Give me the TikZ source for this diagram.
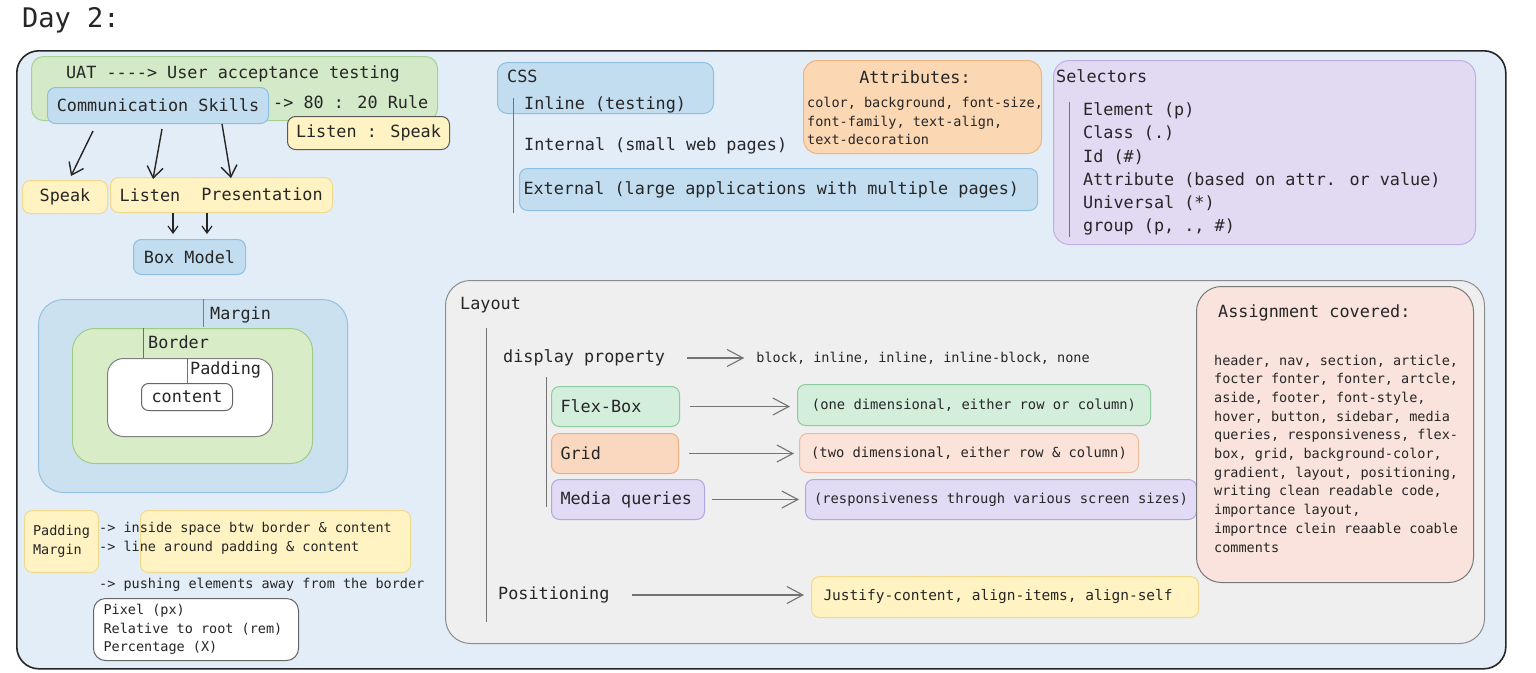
\documentclass[tikz,border=0pt]{standalone}
\usepackage{fontspec}
\setmainfont{DejaVu Sans Mono}[Ligatures=TeXOff]
\usepackage{tikz}
\usetikzlibrary{arrows.meta,positioning}

\definecolor{ink}{HTML}{262626}
\definecolor{bgblue}{HTML}{E3EDF7}
\definecolor{grnF}{HTML}{D3E9C7}  \definecolor{grnL}{HTML}{A6D292}
\definecolor{bluF}{HTML}{C3DDF0}  \definecolor{bluL}{HTML}{8EBEE2}
\definecolor{yelF}{HTML}{FFF3C4}  \definecolor{yelL}{HTML}{F1D98B}
\definecolor{mrgF}{HTML}{CCE1F0}  \definecolor{mrgL}{HTML}{93C0E0}
\definecolor{brdF}{HTML}{D8ECC8}  \definecolor{brdL}{HTML}{9FCB86}
\definecolor{attF}{HTML}{FBD8B3}  \definecolor{attL}{HTML}{F0B57A}
\definecolor{selF}{HTML}{E2D9F3}  \definecolor{selL}{HTML}{BFAEE6}
\definecolor{layF}{HTML}{EFEFEF}  \definecolor{layL}{HTML}{8C8C8C}
\definecolor{flxF}{HTML}{D4EEDC}  \definecolor{flxL}{HTML}{8DCB9E}
\definecolor{grdF}{HTML}{FAD8C0}  \definecolor{grdL}{HTML}{EDAE84}
\definecolor{gdsF}{HTML}{FBE3D9}  \definecolor{gdsL}{HTML}{F0B99E}
\definecolor{mqF}{HTML}{E1DBF5}   \definecolor{mqL}{HTML}{B3A4E2}
\definecolor{asF}{HTML}{F9E3DC}   \definecolor{asL}{HTML}{787878}

\newcommand{\fbig}{\fontsize{16.8}{20}\selectfont}
\newcommand{\fsel}{\fontsize{16.8}{23.2}\selectfont}
\newcommand{\fsmall}{\fontsize{13.5}{18.7}\selectfont}
\newcommand{\fmid}{\fontsize{13.8}{17}\selectfont}

\begin{document}
\begin{tikzpicture}[x=1pt,y=-1pt,
  every node/.style={inner sep=0pt, text=ink,
                     execute at begin node={\spaceskip=\fontdimen2\font\relax}},
  txt/.style={font=\fbig},
  stxt/.style={font=\fsmall},
  box/.style={draw, line width=1pt, rounded corners=8pt, anchor=north west, font=\fbig},
  greenbox/.style={box, fill=grnF, draw=grnL},
  bluebox/.style={box, fill=bluF, draw=bluL},
  yelbox/.style={box, fill=yelF, draw=yelL},
  whitebox/.style={box, fill=white, draw=black!60},
  tick/.style={line width=0.9pt, draw=black!55},
  arr/.style={-{Straight Barb[length=11pt,width=16pt]}, line width=1.4pt, draw=ink},
  sarr/.style={-{Straight Barb[length=7pt,width=10pt]}, line width=1.2pt, draw=ink},
  garr/.style={-{Straight Barb[length=16pt,width=17pt]}, line width=1.1pt, draw=black!55,
               shorten <=10pt, shorten >=7pt}]

\useasboundingbox (0,0) rectangle (1536,672);

\node[anchor=base west, font=\fontsize{27}{30}\selectfont] (D) at (22,27) {Day 2:};

% main panel
\node[box, fill=bgblue, draw=ink, line width=1.6pt, rounded corners=22pt] (P)
     [minimum width=1489, minimum height=618] at (16,50) {};

% communication skills
\node[greenbox, rounded corners=12pt] (UATb) [minimum width=406, minimum height=64] at (31,56) {};
\node[txt] (UAT) at (233,74) {UAT ----> User acceptance testing};
\node[bluebox] (CS) [minimum width=221, minimum height=36] at (47,87) {Communication Skills};
\node[txt, right=4pt of CS, yshift=3pt] (RL) {-> 80 : 20 Rule};
\node[yelbox, draw=black!65] (LSp) [minimum width=162, minimum height=33] at (287,116) {Listen : Speak};

\node[yelbox] (SP) [minimum width=85, minimum height=33] at (22,180) {Speak};
\node[yelbox] (LP) [minimum width=222, minimum height=35] at (110,177) {};
\node[txt] (LI) at (150,195) {Listen};
\node[txt] (PR) at (262,194) {Presentation};
\node[bluebox] (BM) [minimum width=112, minimum height=35] at (133,239) {Box Model};

\draw[arr] ([xshift=46pt,yshift=-7pt]CS.south west) -- ([xshift=6pt,yshift=4pt]SP.north);
\draw[arr] ([xshift=115pt,yshift=-5pt]CS.south west) -- ([xshift=43pt,yshift=-2pt]LP.north west);
\draw[arr] ([xshift=175pt]CS.south west) -- ([xshift=121pt,yshift=-1pt]LP.north west);
\draw[sarr] ([xshift=63pt]LP.south west) -- ([xshift=40pt,yshift=5pt]BM.north west);
\draw[sarr] ([xshift=97pt]LP.south west) -- ([xshift=74pt,yshift=5pt]BM.north west);

% box model
\node[box, fill=mrgF, draw=mrgL, rounded corners=25pt] (MG) [minimum width=309, minimum height=193] at (38,299) {};
\node[box, fill=brdF, draw=brdL, rounded corners=22pt] (BD) [minimum width=240, minimum height=135] at (72,328) {};
\node[whitebox, draw=black!50, rounded corners=16pt] (PD) [minimum width=165, minimum height=78] at (107,358) {};
\node[whitebox, rounded corners=7pt] (CT) [minimum width=91, minimum height=27] at (141,383) {content};
\node[txt, anchor=west] (MGt) at (210,315) {Margin};
\node[txt, anchor=west] (BDt) at (148,342) {Border};
\node[txt, anchor=west] (PDt) at (190,370) {Padding};
\draw[tick, draw=mrgL!70!black] (203,299) -- (203,327);
\draw[tick, draw=brdL!60!black] (143,328) -- (143,358);
\draw[tick] (187,358) -- (187,383);

% definitions
\node[yelbox, font=\fsmall, align=left] (YL) [minimum width=74, minimum height=62] at (24,510) {Padding\\Margin};
\node[yelbox] (YR) [minimum width=270, minimum height=62] at (140,510) {};
\node[stxt, anchor=west, align=left] (DEF) at (99,538) {-> inside space btw border \& content\\-> line around padding \& content};
\node[stxt, anchor=west] (PU) at (99,585) {-> pushing elements away from the border};
\node[whitebox, font=\fsmall, align=left, text width=185, inner xsep=10, rounded corners=12pt] (UN)
     [minimum height=62] at (93,598) {Pixel (px)\\Relative to root (rem)\\Percentage (X)};

% css
\node[bluebox, rounded corners=10pt] (CSSb) [minimum width=216, minimum height=51] at (497,62) {};
\node[txt, anchor=west] (CSS) at (507,76) {CSS};
\node[txt, anchor=west] (IN) at (524,105) {Inline (testing)};
\node[txt, anchor=west] (IT) at (524,146) {Internal (small web pages)};
\node[bluebox, text width=510, align=left, inner xsep=4] (EX) [minimum height=42] at (519,168)
     {External (large applications with multiple pages)};
\draw[tick] (513,98) -- (513,213);

% attributes
\node[box, fill=attF, draw=attL, rounded corners=14pt] (AT) [minimum width=238, minimum height=93] at (803,60) {};
\node[txt] (ATt) at (915,77) {Attributes:};
\node[stxt, anchor=west, align=left] (ATl) at (807,121) {color, background, font-size,\\font-family, text-align,\\text-decoration};

% selectors
\node[box, fill=selF, draw=selL, rounded corners=16pt] (SL) [minimum width=422, minimum height=184] at (1053,60) {};
\node[txt, anchor=west] (SLt) at (1056,76) {Selectors};
\draw[tick] (1069,102) -- (1069,237);
\node[anchor=west, align=left, font=\fsel] (SLl) at (1083,169)
     {Element (p)\\Class (.)\\Id (\#)\\Attribute (based on attr. or value)\\Universal (*)\\group (p, ., \#)};

% layout
\node[box, fill=layF, draw=layL, rounded corners=25pt] (LY) [minimum width=1039, minimum height=363] at (445,280) {};
\node[txt, anchor=west] (LYt) at (460,305) {Layout};
\draw[tick] (486,328) -- (486,622);
\node[txt, anchor=west] (DP) at (503,358) {display property};
\node[stxt, right=91pt of DP] (BL) {block, inline, inline, inline-block, none};
\draw[garr, shorten <=22pt, shorten >=12pt] (DP) -- (BL);
\draw[tick] (546,377) -- (546,507);

\node[box, fill=flxF, draw=flxL, text width=110, align=left, inner xsep=9] (FB) [minimum height=40] at (551,386) {Flex-Box};
\node[box, fill=flxF, draw=flxL, font=\fmid] (FBd) [minimum width=353, minimum height=41] at (797,384) {(one dimensional, either row or column)};
\node[box, fill=grdF, draw=grdL, text width=109, align=left, inner xsep=9] (GR) [minimum height=40] at (551,433) {Grid};
\node[box, fill=gdsF, draw=gdsL, font=\fmid] (GRd) [minimum width=339, minimum height=39] at (799,433) {(two dimensional, either row \& column)};
\node[box, fill=mqF, draw=mqL, text width=135, align=left, inner xsep=9] (MQ) [minimum height=40] at (551,479) {Media queries};
\node[box, fill=mqF, draw=mqL, font=\fmid] (MQd) [minimum width=391, minimum height=40] at (805,479) {(responsiveness through various screen sizes)};

\draw[garr] (FB) -- (FB -| FBd.west);
\draw[garr, shorten >=5pt] (GR) -- (GR -| GRd.west);
\draw[garr, shorten <=7pt, shorten >=6pt] (MQ) -- (MQ -| MQd.west);

\node[txt, anchor=west] (PS) at (498,595) {Positioning};
\node[yelbox, font=\fontsize{14.5}{17}\selectfont, text width=363, align=left, inner xsep=12] (JS)
     [minimum height=41] at (811,576) {Justify-content, align-items, align-self};
\draw[garr, shorten <=22pt] (PS) -- (PS -| JS.west);

% assignment
\node[box, fill=asF, draw=asL, rounded corners=25pt] (AS) [minimum width=277, minimum height=296] at (1196,286) {};
\node[txt, anchor=west] (ASt) at (1218,313) {Assignment covered:};
\node[stxt, anchor=west, align=left] (ASl) at (1214,453.5)
     {header, nav, section, article,\\focter fonter, fonter, artcle,\\aside, footer, font-style,\\hover, button, sidebar, media\\queries, responsiveness, flex-\\box, grid, background-color,\\gradient, layout, positioning,\\writing clean readable code,\\importance layout,\\importnce clein reaable coable\\comments};

\end{tikzpicture}
\end{document}
